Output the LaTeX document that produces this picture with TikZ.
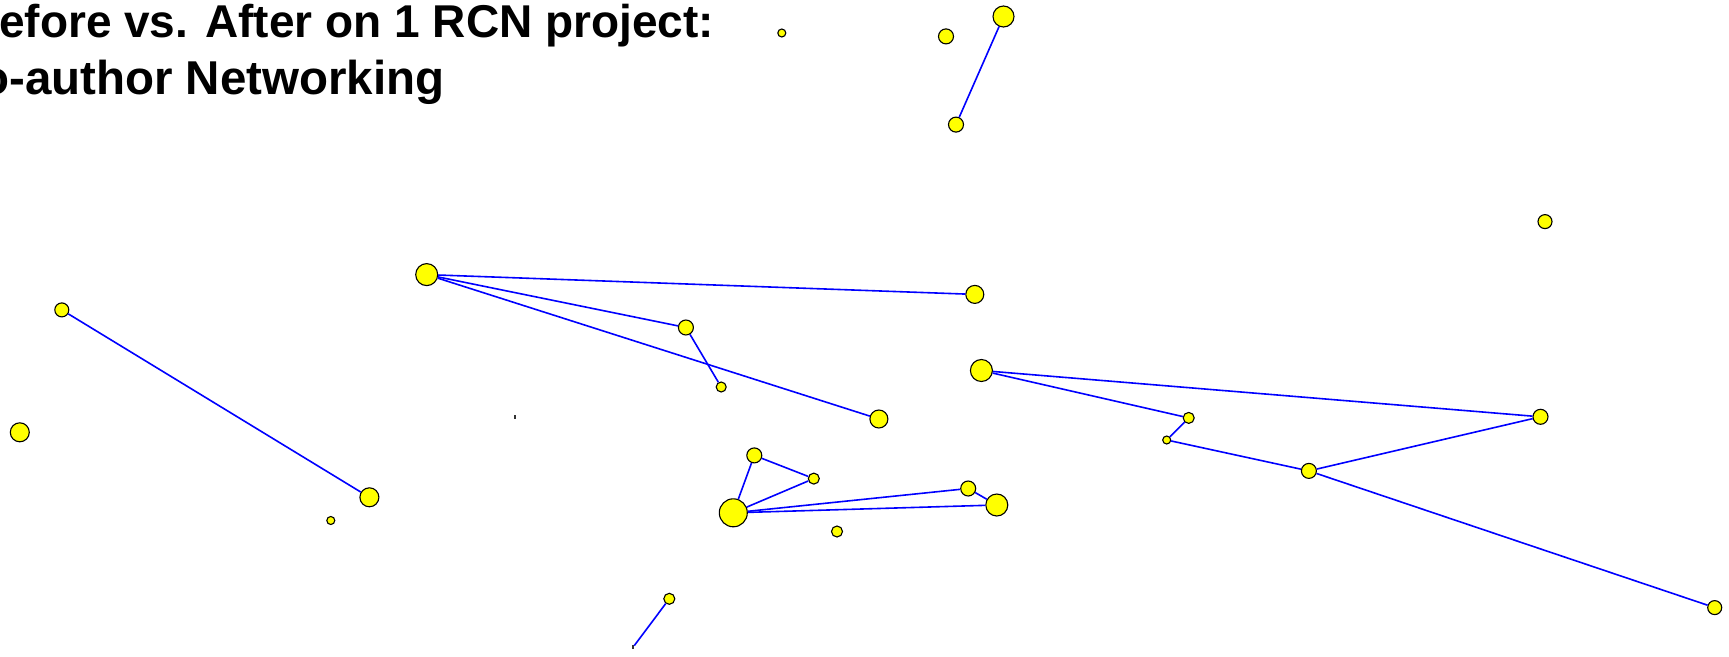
\documentclass[tikz,border=0pt]{standalone}
\usepackage{fontspec}
\setmainfont{Liberation Sans}
\definecolor{vertex}{HTML}{FFFF00}
\definecolor{tie}{HTML}{0000FF}
\tikzset{
    person/.style={circle, draw=black, fill=vertex, line width=1.1pt, inner sep=0pt, minimum size=#1},
    person/.default=14pt,
    link/.style={draw=tie, line width=1.6pt},
    stub/.style={fill=black!80, inner sep=0pt, minimum width=2pt, minimum height=4pt},
    headline/.style={anchor=base west, inner sep=0pt, font=\fontsize{46}{52}\selectfont\bfseries}
}

\begin{document}
\begin{tikzpicture}[x=1pt, y=-1pt]
    \useasboundingbox (0,0) rectangle (1729,656);
    \begin{scope}
        \clip (0,0) rectangle (1729,656);
        \node[headline] (title) at (-1,37) {efore vs. After on 1 RCN project:};
        \node[headline, font=\fontsize{47.5}{52}\selectfont\bfseries] (subtitle) at (-20,94) {o-author Networking};
    \end{scope}

    % authors, sized by degree
    \node[person=21pt] (p1) at (1003.5,16.5) {};
    \node[person=15pt] (p2) at (946,36.4) {};
    \node[person=15pt] (p3) at (956,124.6) {};
    \node[person=8pt] (p4) at (781.8,33) {};
    \node[person] (p5) at (1545,221.6) {};
    \node[person=22pt] (p6) at (426.7,274.6) {};
    \node[person=18pt] (p7) at (974.8,294.4) {};
    \node[person=15pt] (p8) at (685.9,327.5) {};
    \node[person=10pt] (p9) at (721.2,387) {};
    \node[person=18pt] (p10) at (878.9,419) {};
    \node[person=22pt] (p11) at (981.4,370.5) {};
    \node[person] (p12) at (61.8,309.9) {};
    \node[person=19pt] (p13) at (19.8,432.3) {};
    \node[person=19pt] (p14) at (369.4,497.3) {};
    \node[person=8pt] (p15) at (330.8,520.5) {};
    \node[stub] (p16) at (515,417) {};
    \node[person=11pt] (p17) at (1188.7,417.9) {};
    \node[person=8pt] (p18) at (1166.7,440) {};
    \node[person=15pt] (p19) at (1308.9,470.9) {};
    \node[person=15pt] (p20) at (1540.5,416.8) {};
    \node[person] (p21) at (1714.7,607.6) {};
    \node[person=15pt] (p22) at (754.3,455.4) {};
    \node[person=11pt] (p23) at (813.8,478.6) {};
    \node[person=28pt] (p24) at (733.3,512.8) {};
    \node[person=15pt] (p25) at (968.2,488.5) {};
    \node[person=22pt] (p26) at (996.8,505) {};
    \node[person=11pt] (p27) at (837,531.5) {};
    \node[person=11pt] (p28) at (669.3,598.8) {};
    \node[stub] (p29) at (633,647.3) {};

    % co-authorship ties
    \foreach \a/\b in {p1/p3, p12/p14, p6/p7, p6/p8, p6/p10, p8/p9,
                       p11/p20, p11/p17, p17/p18, p18/p19, p19/p20, p19/p21,
                       p24/p22, p22/p23, p24/p23, p24/p25, p24/p26, p25/p26, p28/p29}
        \draw[link] (\a) -- (\b);
\end{tikzpicture}
\end{document}
